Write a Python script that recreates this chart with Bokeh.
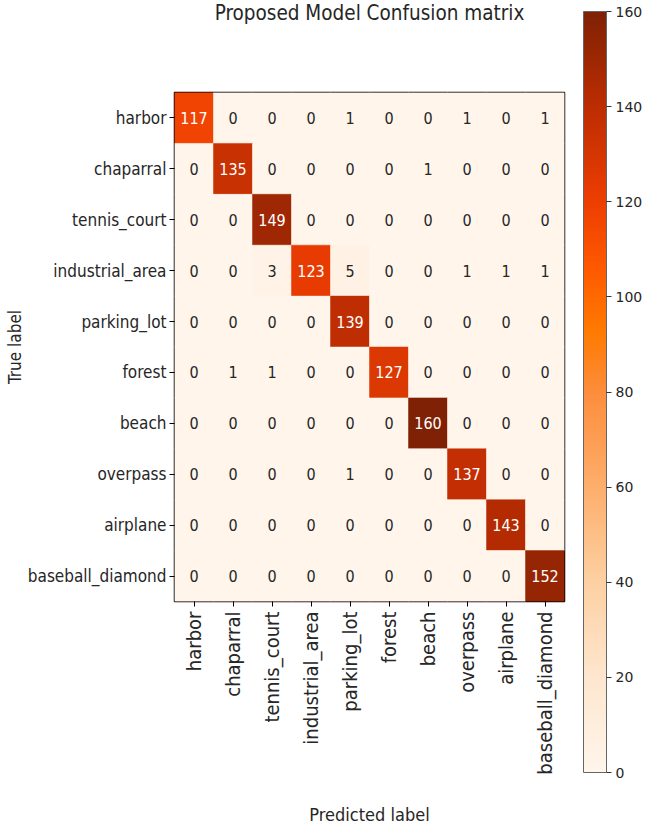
import math
from bokeh.plotting import figure
from bokeh.models import ColumnDataSource, ColorBar, LinearColorMapper, FixedTicker, Title
from bokeh.transform import linear_cmap
from bokeh.core.properties import value
from bokeh.embed import file_html
from bokeh.resources import INLINE
import numpy as np

# class names, in row / column order of the matrix
labels = ["harbor", "chaparral", "tennis_court", "industrial_area", "parking_lot",
          "forest", "beach", "overpass", "airplane", "baseball_diamond"]

# confusion counts: one list per true class, columns are predicted classes
harbor_row = [117, 0, 0, 0, 1, 0, 0, 1, 0, 1]
chaparral_row = [0, 135, 0, 0, 0, 0, 1, 0, 0, 0]
tennis_court_row = [0, 0, 149, 0, 0, 0, 0, 0, 0, 0]
industrial_area_row = [0, 0, 3, 123, 5, 0, 0, 1, 1, 1]
parking_lot_row = [0, 0, 0, 0, 139, 0, 0, 0, 0, 0]
forest_row = [0, 1, 1, 0, 0, 127, 0, 0, 0, 0]
beach_row = [0, 0, 0, 0, 0, 0, 160, 0, 0, 0]
overpass_row = [0, 0, 0, 0, 1, 0, 0, 137, 0, 0]
airplane_row = [0, 0, 0, 0, 0, 0, 0, 0, 143, 0]
baseball_diamond_row = [0, 0, 0, 0, 0, 0, 0, 0, 0, 152]

matrix = [harbor_row, chaparral_row, tennis_court_row, industrial_area_row,
          parking_lot_row, forest_row, beach_row, overpass_row, airplane_row,
          baseball_diamond_row]

colorbar_ticks = [0, 20, 40, 60, 80, 100, 120, 140, 160]
VMIN, VMAX = 0, 160

# orange sequential palette, light to dark (stop position, colour)
stop_pos = [0.0, 0.125, 0.25, 0.375, 0.5, 0.58, 0.66, 0.75, 0.875, 1.0]
stop_col = ["#fff5eb", "#fee6ce", "#fdd0a2", "#fdae6b", "#fd8d3c",
            "#ff7a00", "#ff5a00", "#ee3e02", "#bd2d02", "#7f2104"]


def build_palette(pos, cols, n=256):
    rgb = np.array([[int(c[i:i + 2], 16) for i in (1, 3, 5)] for c in cols], float)
    out = []
    for k in np.linspace(0, 1, n):
        r, g, b = (np.interp(k, pos, rgb[:, ch]) for ch in range(3))
        out.append("#%02x%02x%02x" % (int(round(r)), int(round(g)), int(round(b))))
    return out


palette = build_palette(stop_pos, stop_col)

FONT = "'DejaVu Sans Condensed', 'DejaVu Sans'"
TEXT_COLOR = "#262626"

true_col, pred_col, val_col, txt_col, txt_color = [], [], [], [], []
thresh = max(max(r) for r in matrix) / 2
for i, row_vals in enumerate(matrix):
    for j, v in enumerate(row_vals):
        true_col.append(labels[i])
        pred_col.append(labels[j])
        val_col.append(v)
        txt_col.append(str(v))
        txt_color.append("white" if v > thresh else TEXT_COLOR)

src = ColumnDataSource(dict(true=true_col, pred=pred_col, value=val_col,
                            label=txt_col, tcolor=txt_color))

p = figure(width=651, height=827, x_range=labels, y_range=list(reversed(labels)),
           output_backend="svg", toolbar_location=None,
           x_axis_label="Predicted label", y_axis_label="True label",
           min_border_left=174, min_border_right=87,
           min_border_top=91, min_border_bottom=226)

cmap = linear_cmap("value", palette, VMIN, VMAX)
p.rect(x="pred", y="true", width=1, height=1, source=src,
       fill_color=cmap, line_color=cmap, line_width=0.5)
p.text(x="pred", y="true", text="label", source=src,
       text_align="center", text_baseline="middle",
       text_font=value(FONT), text_font_size="16px", text_color="tcolor")

p.grid.visible = False
p.outline_line_color = "black"
p.outline_line_width = 1.5
p.background_fill_color = "white"

for ax in (p.xaxis[0], p.yaxis[0]):
    ax.axis_line_color = None
    ax.major_tick_out = 5
    ax.major_tick_in = 0
    ax.major_tick_line_color = "black"
    ax.major_label_text_font = FONT
    ax.major_label_text_color = TEXT_COLOR
    ax.axis_label_text_font = FONT
    ax.axis_label_text_font_style = "normal"
    ax.axis_label_text_color = TEXT_COLOR

p.yaxis.major_label_text_font_size = "17px"
p.yaxis.major_label_standoff = 3
p.yaxis.axis_label_text_font_size = "17px"
p.yaxis.axis_label_standoff = 0

p.xaxis.major_label_text_font_size = "20px"
p.xaxis.major_label_standoff = 5
p.xaxis.major_label_orientation = math.pi / 2
p.xaxis.axis_label_text_font_size = "18px"
p.xaxis.axis_label_standoff = 26

# headline sits at the top edge; an empty title below it fills the gap to the frame
gap = Title(text=" ", text_font_size="10px", standoff=53)
p.add_layout(gap, "above")
headline = Title(text="Proposed Model Confusion matrix", align="center",
                 vertical_align="top", standoff=0,
                 text_font=FONT, text_font_size="20.5px", text_font_style="normal",
                 text_color=TEXT_COLOR)
p.add_layout(headline, "above")

# colour scale to the right of the matrix
mapper = LinearColorMapper(palette=palette, low=VMIN, high=VMAX)
cbar = ColorBar(color_mapper=mapper, location=(409, -171), orientation="vertical",
                width=23, height=761, padding=0, margin=0,
                ticker=FixedTicker(ticks=colorbar_ticks),
                bar_line_color="#666666", bar_line_width=1,
                major_tick_out=5, major_tick_in=0, major_tick_line_color="#333333",
                minor_tick_line_color=None, label_standoff=4,
                major_label_text_font="DejaVu Sans", major_label_text_font_size="14px",
                major_label_text_color=TEXT_COLOR,
                border_line_color=None, background_fill_color=None)
p.add_layout(cbar, "center")

open("out.html", "w").write(file_html(p, INLINE))
